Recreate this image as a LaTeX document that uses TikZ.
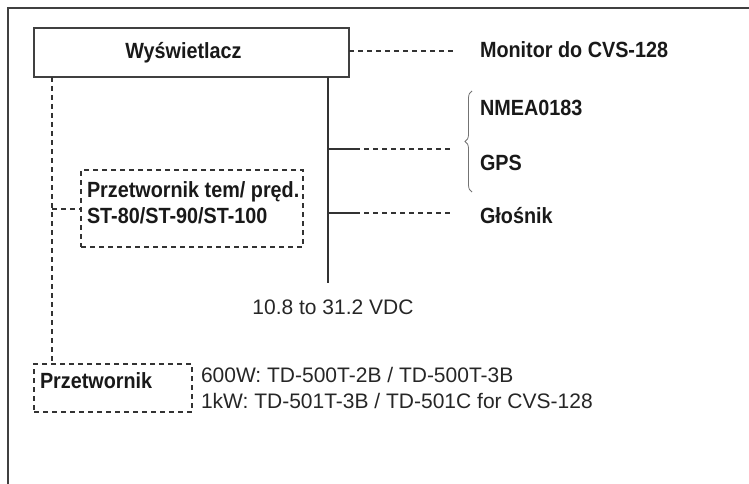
\documentclass[tikz,border=0pt]{standalone}
\usepackage{fontspec}
\setmainfont{Liberation Sans}
\newfontfamily\nar[FakeStretch=0.9]{Liberation Sans}
\usetikzlibrary{decorations.pathreplacing}
\begin{document}
\begin{tikzpicture}[x=1pt,y=1pt,
  every node/.style={inner sep=0pt,outer sep=0pt},
  bl/.style={font=\nar\bfseries\fontsize{22}{26}\selectfont, text=black!90},
  rg/.style={font=\fontsize{21}{26}\selectfont, text=black!85},
  solidbox/.style={draw=black!75, line width=1.6pt},
  dbox/.style={draw=black!80, line width=1.2pt, dash pattern=on 5pt off 4pt},
  dline/.style={draw=black!80, line width=1.2pt, dash pattern=on 5pt off 4pt},
  sline/.style={draw=black!80, line width=1.3pt}]
\useasboundingbox (0,0) rectangle (749,-484);
% frame
\draw[black!75, line width=2pt] (8,-484) -- (8,-8) -- (749,-8);
% display box
\node[solidbox, bl, minimum width=315, minimum height=49] (disp) at (191.5,-52.5) {Wyświetlacz\hspace*{16pt}};
\node[bl, anchor=west] (mon) at (480,-50) {Monitor do CVS-128};
\coordinate (monend) at (453,-51);
\draw[dline] (disp.east |- monend) -- (monend);
% vertical trunk
\coordinate (ttop) at (328,-77);
\coordinate (tbot) at (328,-283);
\draw[sline] (ttop) -- (tbot);
\coordinate (b1) at (328,-149);
\coordinate (b1m) at (355,-149);
\coordinate (b1e) at (450,-149);
\coordinate (b2) at (328,-213);
\coordinate (b2m) at (355,-213);
\coordinate (b2e) at (450,-213);
\draw[sline] (b1) -- (b1m);
\draw[dline] (b1m) -- (b1e);
\draw[sline] (b2) -- (b2m);
\draw[dline] (b2m) -- (b2e);
% brace
\coordinate (brb) at (472,-192);
\coordinate (brt) at (472,-91);
\draw[black!55, line width=0.8pt, decorate, decoration={brace, amplitude=7pt}] (brb) -- (brt);
\node[bl, anchor=west] (nmea) at (480,-108) {NMEA0183};
\node[bl, anchor=west] (gps) at (480,-163) {GPS};
\node[bl, anchor=west] (glo) at (480,-216) {Głośnik};
% power
\node[rg] (vdc) at (333,-307) {10.8 to 31.2 VDC};
% sensor box
\node[dbox, minimum width=222, minimum height=77] (st) at (192,-208.5) {};
\node[bl, anchor=west, align=left] (sttxt) at (87,-203) {Przetwornik tem/ pręd.\\ST-80/ST-90/ST-100};
\coordinate (lv1) at (52,-77);
\coordinate (lv2) at (52,-364);
\coordinate (stub) at (52,-209);
\draw[dline] (lv1) -- (lv2);
\draw[dline] (stub) -- (st.west |- stub);
% transducer box
\node[dbox, minimum width=158, minimum height=48] (tr) at (113,-388) {};
\node[bl, anchor=west] (trtxt) at (40,-381) {Przetwornik};
\node[rg, anchor=west, align=left] (trmod) at (201,-388) {600W: TD-500T-2B / TD-500T-3B\\1kW: TD-501T-3B / TD-501C for CVS-128};
\end{tikzpicture}
\end{document}
